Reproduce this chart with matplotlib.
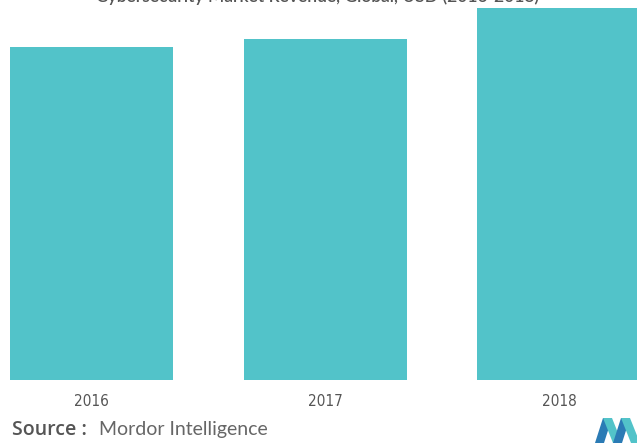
import matplotlib
matplotlib.use("Agg")
import matplotlib.pyplot as plt
from matplotlib.patches import Polygon

years = ["2016", "2017", "2018"]
values = [333, 341, 372]
title = "Cybersecurity Market Revenue, Global, USD (2016-2018)"

W, H = 637, 443
fig = plt.figure(figsize=(W / 100, H / 100), dpi=100)
ax = fig.add_axes([0, 63 / H, 1, 380 / H])
ax.bar(range(len(years)), values, width=0.7, color="#52C3C9")
ax.set_xlim(-0.391, 2.332)
ax.set_ylim(0, 380)
ax.set_xticks(range(len(years)))
ax.set_xticklabels(years)
ax.tick_params(axis="x", length=0, pad=10, labelsize=11, labelcolor="#555555")
for lbl in ax.get_xticklabels():
    lbl.set_family("DejaVu Sans")
    lbl.set_stretch("condensed")
ax.set_yticks([])
for s in ax.spines.values():
    s.set_visible(False)

# title (cropped at the top edge in the reference)
fig.text(318 / W, 1 - 2 / H, title, ha="center", va="baseline",
         fontsize=12.5, color="#555555", fontweight="semibold", family="Lato")

# source line
fig.text(12 / W, 13 / H, "Source :", ha="left", va="center",
         fontsize=14, color="#555555", fontweight="semibold", family="Open Sans")
fig.text(99 / W, 13 / H, "Mordor Intelligence", ha="left", va="center",
         fontsize=14, color="#666666", family="Lato")

# logo
def px(pts):
    return [(x / W, 1 - y / H) for x, y in pts]

logo = [
    ([(595, 443), (603, 418), (612, 418), (604, 443)], "#2B7BB5"),
    ([(603, 418), (612, 418), (622, 443), (613, 443)], "#52C3C9"),
    ([(613, 443), (621, 418), (630, 418), (622, 443)], "#2B7BB5"),
    ([(621, 418), (630, 418), (640, 443), (631, 443)], "#52C3C9"),
]
for pts, c in logo:
    fig.patches.append(Polygon(px(pts), closed=True, transform=fig.transFigure,
                               facecolor=c, edgecolor="none"))

fig.savefig("out.png", dpi=100)
